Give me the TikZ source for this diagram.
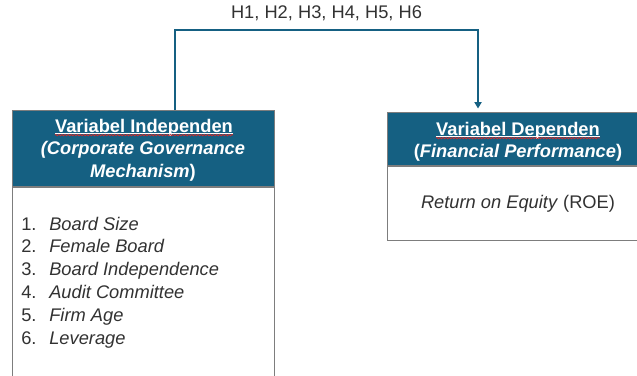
\documentclass[tikz,border=0pt]{standalone}
\usepackage{fontspec}
\setmainfont{Liberation Sans}
\usetikzlibrary{arrows.meta,positioning,decorations.pathmorphing}
\definecolor{cgteal}{RGB}{21,96,130}
\definecolor{cggray}{RGB}{125,125,125}
\definecolor{cgtext}{RGB}{50,50,50}
\definecolor{cgred}{RGB}{214,40,40}

\begin{document}
\begin{tikzpicture}[x=0.025cm,y=-0.025cm,>={Triangle[width=5pt,length=4.5pt]},
    font=\fontsize{13}{16.1}\selectfont,every node/.style={inner sep=0pt},
    headbox/.style={draw=cggray,fill=cgteal,minimum width=6.55cm,anchor=north west},
    bodybox/.style={draw=cggray,fill=white,minimum width=6.55cm},
    headtext/.style={text=white,font=\fontsize{13}{16.1}\selectfont\bfseries,anchor=base},
    item/.style={text=cgtext,anchor=base west},
    link/.style={draw=cgteal,line width=1.4pt},
    squiggle/.style={cgred,line width=0.5pt,decorate,decoration={snake,amplitude=0.5pt,segment length=2.2pt}}]
    \useasboundingbox (0,0) rectangle (637,375);
    \clip (0,0) rectangle (637,375);
    % independent side
    \node[headbox,minimum height=1.9cm] (indep) at (12,110) {};
    \node[bodybox,minimum height=6cm,below=0pt of indep] (indepbody) {};
    \node[headtext] (indeptitle) at (144,132) {Variabel Independen};
    \node[headtext] (indepsub) at (143,154.5) {\itshape(Corporate Governance};
    \node[headtext] (indepsub2) at (143,177.5) {\textit{Mechanism})};
    \draw[white,line width=0.6pt] ([yshift=-1.2pt]indeptitle.base west) -- ([yshift=-1.2pt]indeptitle.base east);
    \draw[squiggle] ([yshift=-2.2pt]indeptitle.base west) -- ([yshift=-2.2pt]indeptitle.base east);
    \node[item] (item1) at (21,230) {\makebox[0.7cm][l]{1.}\textit{Board Size}};
    \node[item] (item2) at (21,252.8) {\makebox[0.7cm][l]{2.}\textit{Female Board}};
    \node[item] (item3) at (21,275.6) {\makebox[0.7cm][l]{3.}\textit{Board Independence}};
    \node[item] (item4) at (21,298.4) {\makebox[0.7cm][l]{4.}\textit{Audit Committee}};
    \node[item] (item5) at (21,321.2) {\makebox[0.7cm][l]{5.}\textit{Firm Age}};
    \node[item] (item6) at (21,344) {\makebox[0.7cm][l]{6.}\textit{Leverage}};
    % dependent side
    \node[headbox,minimum height=1.325cm] (dep) at (387,112) {};
    \node[bodybox,minimum height=1.85cm,below=0pt of dep] (depbody) {};
    \node[headtext] (deptitle) at (518,135) {Variabel Dependen};
    \node[headtext] (depsub) at (518,157) {(\textit{Financial Performance})};
    \draw[white,line width=0.6pt] ([yshift=-1.2pt]deptitle.base west) -- ([yshift=-1.2pt]deptitle.base east);
    \draw[squiggle] ([yshift=-2.2pt]deptitle.base west) -- ([yshift=-2.2pt]deptitle.base east);
    \node[text=cgtext,anchor=base] (roe) at (518,208) {\textit{Return on Equity} (ROE)};
    % hypotheses
    \draw[link,->,shorten >=2.5pt] ([xshift=4.075cm]indep.north west) -- ++(0,-80)
      -| node[pos=0.25,anchor=base,yshift=8.5pt,text=cgtext] (hyp) {H1, H2, H3, H4, H5, H6} ([xshift=2.275cm]dep.north west);
  \end{tikzpicture}
\end{document}
